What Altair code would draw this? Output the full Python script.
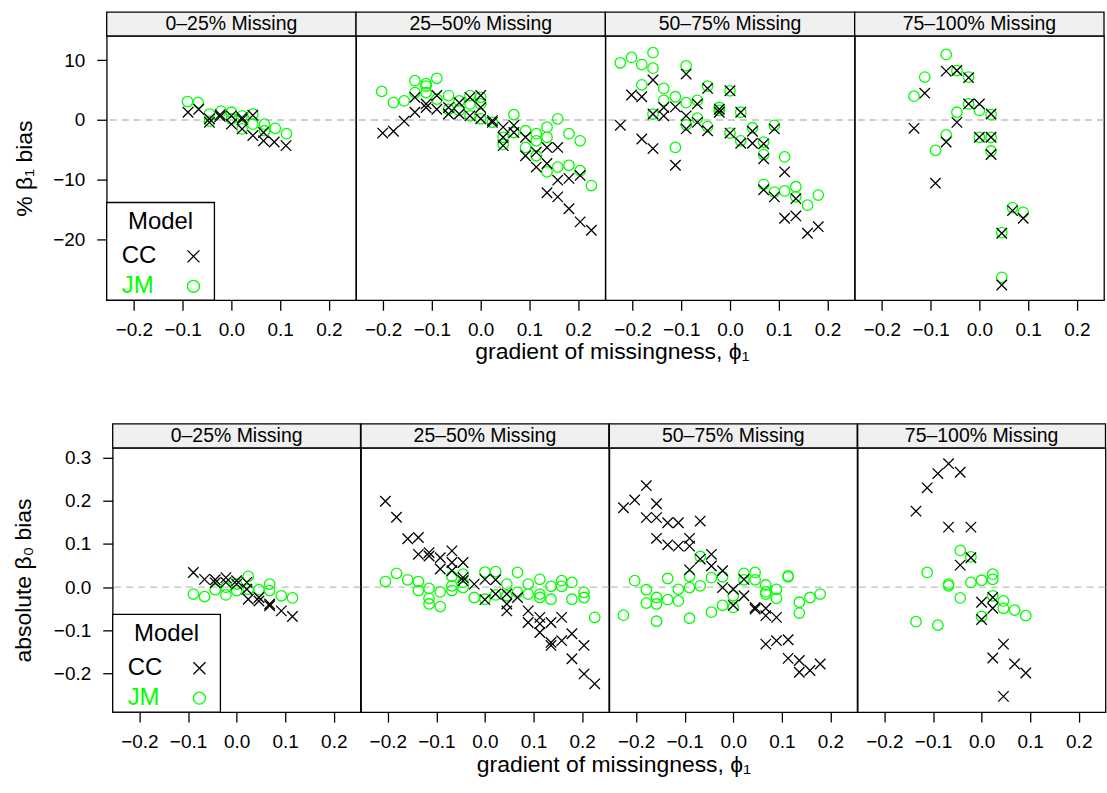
import altair as alt
import pandas as pd

FONT = "Liberation Sans"
GREEN = "#00FF00"
PANELS = ["0–25% Missing", "25–50% Missing", "50–75% Missing", "75–100% Missing"]
X_TICKS = [-0.2, -0.1, 0.0, 0.1, 0.2]
B1_TICKS = [-20, -10, 0, 10]
B0_TICKS = [-0.2, -0.1, 0.0, 0.1, 0.2, 0.3]
LEGEND_TITLE = ["Model"]
MODELS = ["CC", "JM"]
B1_TITLE = "% β₁ bias"
B0_TITLE = "absolute β₀ bias"
X_TITLE = "gradient of missingness, ϕ₁"

# ---- % beta1 bias (top row), (phi1, bias) pairs ----
B1_CC_1 = [(-0.089, 1.3), (-0.067, 1.8), (-0.045, -0.4), (-0.045, 0.2), (-0.023, 0.9), (-0.023, 0.6),
           (0.0, 0.7), (0.0, -0.7), (0.022, 0.1), (0.022, 0.4), (0.022, -1.5), (0.044, 0.8), (0.044, -2.6),
           (0.066, -2.1), (0.066, -3.5), (0.088, -3.7), (0.112, -4.3)]
B1_JM_1 = [(-0.09, 3.1), (-0.068, 2.9), (-0.045, 1.0), (-0.045, -0.2), (-0.021, 1.5), (0.0, 1.3), (0.0, 0.2),
           (0.022, 0.7), (0.022, -1.5), (0.044, 1.0), (0.044, -0.7), (0.068, -0.7), (0.068, -1.8),
           (0.09, -1.4), (0.113, -2.3)]
B1_CC_2 = [(-0.201, -2.2), (-0.179, -1.9), (-0.157, -0.2), (-0.135, 3.8), (-0.135, 1.3), (-0.112, 2.1),
           (-0.112, 2.7), (-0.090, 4.1), (-0.090, 1.8), (-0.066, 2.1), (-0.066, 1.0), (-0.044, 2.9),
           (-0.044, 1.0), (-0.022, 3.8), (-0.022, 0.7), (0.0, 4.1), (0.0, 2.1), (0.0, 0.2), (0.024, -0.1),
           (0.024, -0.4), (0.046, -1.2), (0.046, -2.9), (0.046, -4.3), (0.068, -0.9), (0.068, -2.1),
           (0.092, -2.9), (0.092, -6.0), (0.114, -5.4), (0.114, -7.9), (0.136, -4.6), (0.136, -7.3),
           (0.136, -12.2), (0.158, -4.6), (0.158, -10.1), (0.158, -12.9), (0.181, -9.8), (0.181, -14.9),
           (0.204, -9.3), (0.204, -17.1), (0.227, -18.5)]
B1_JM_2 = [(-0.203, 4.8), (-0.179, 2.9), (-0.157, 3.2), (-0.135, 6.6), (-0.135, 4.6), (-0.112, 6.1),
           (-0.112, 5.7), (-0.112, 4.6), (-0.090, 7.0), (-0.090, 3.5), (-0.066, 4.1), (-0.066, 1.8),
           (-0.044, 3.2), (-0.044, 1.6), (-0.022, 4.1), (-0.022, 2.7), (-0.022, 0.7), (0.0, 3.8), (0.0, 2.7),
           (0.0, 0.2), (0.024, -0.4), (0.046, -2.9), (0.046, -4.1), (0.068, 0.9), (0.068, -2.1),
           (0.092, -1.8), (0.092, -4.6), (0.114, -2.3), (0.114, -3.5), (0.114, -6.0), (0.136, -1.2),
           (0.136, -2.9), (0.136, -8.7), (0.158, 0.2), (0.158, -7.9), (0.181, -2.3), (0.181, -7.6),
           (0.204, -3.5), (0.204, -8.5), (0.227, -11.0)]
B1_CC_3 = [(-0.225, -0.9), (-0.202, 4.2), (-0.181, 3.9), (-0.181, -3.2), (-0.158, 6.7), (-0.158, -4.8),
           (-0.158, 1.0), (-0.136, 2.1), (-0.136, 0.7), (-0.112, 2.2), (-0.112, -7.6), (-0.090, 7.7),
           (-0.090, 0.7), (-0.090, -1.5), (-0.067, 2.7), (-0.067, -0.4), (-0.046, 5.3), (-0.046, -1.8),
           (-0.022, 1.8), (-0.022, 1.3), (0.0, 4.9), (0.0, -2.2), (0.022, 1.3), (0.022, -3.9), (0.046, -1.9),
           (0.046, -3.9), (0.069, -4.0), (0.069, -6.5), (0.069, -11.7), (0.091, -1.5), (0.091, -12.9),
           (0.112, -8.7), (0.112, -16.5), (0.135, -13.2), (0.135, -16.1), (0.159, -19.0), (0.181, -17.9)]
B1_JM_3 = [(-0.225, 9.6), (-0.202, 10.5), (-0.181, 9.3), (-0.158, 11.3), (-0.158, 8.7), (-0.181, 5.9),
           (-0.136, 5.3), (-0.158, 1.0), (-0.136, 3.3), (-0.112, 3.9), (-0.112, -4.6), (-0.090, 9.1),
           (-0.090, 2.9), (-0.090, -0.8), (-0.067, 3.3), (-0.067, 0.3), (-0.046, 5.7), (-0.046, -1.1),
           (-0.022, 2.1), (-0.022, 1.6), (0.0, 4.9), (0.0, -2.2), (0.022, 1.3), (0.022, -3.5), (0.046, -1.3),
           (0.069, -3.7), (0.069, -5.8), (0.069, -10.8), (0.091, -0.9), (0.091, -12.1), (0.112, -6.2),
           (0.112, -11.9), (0.135, -11.2), (0.135, -12.9), (0.159, -14.3), (0.181, -12.6)]
B1_CC_4 = [(-0.134, -1.4), (-0.112, 4.5), (-0.090, -10.6), (-0.068, 8.2), (-0.068, -3.7), (-0.046, 8.3),
           (-0.046, -0.4), (-0.022, 7.1), (-0.022, 2.7), (0.0, 2.7), (0.0, -2.9), (0.024, 1.0), (0.024, -2.9),
           (0.024, -5.8), (0.046, -19.0), (0.046, -27.7), (0.068, -15.2), (0.090, -16.5)]
B1_JM_4 = [(-0.134, 4.0), (-0.112, 7.2), (-0.090, -5.1), (-0.068, 11.0), (-0.068, -2.5), (-0.046, 8.3),
           (-0.046, 1.3), (-0.022, 7.2), (-0.022, 2.7), (0.0, 1.6), (0.0, -2.9), (0.024, 0.9), (0.024, -2.9),
           (0.024, -5.2), (0.046, -18.9), (0.046, -26.4), (0.068, -14.7), (0.090, -15.5)]

# ---- absolute beta0 bias (bottom row) ----
B0_CC_1 = [(-0.089, 0.034), (-0.066, 0.018), (-0.044, 0.017), (-0.044, 0.010), (-0.022, 0.022),
           (-0.022, 0.011), (0.0, 0.015), (0.0, 0.007), (0.021, 0.011), (0.021, -0.005), (0.024, -0.028),
           (0.046, -0.024), (0.046, -0.032), (0.068, -0.039), (0.068, -0.043), (0.092, -0.055), (0.115, -0.068)]
B0_JM_1 = [(-0.089, -0.016), (-0.066, -0.022), (-0.044, -0.006), (-0.022, -0.018), (-0.022, 0.0),
           (0.0, -0.008), (0.0, 0.007), (0.024, 0.025), (0.024, -0.005), (0.046, -0.006), (0.068, 0.007),
           (0.068, -0.008), (0.092, -0.020), (0.115, -0.025)]
B0_CC_2 = [(-0.205, 0.199), (-0.182, 0.162), (-0.159, 0.112), (-0.137, 0.115), (-0.137, 0.076),
           (-0.115, 0.080), (-0.115, 0.072), (-0.092, 0.068), (-0.092, 0.042), (-0.068, 0.084),
           (-0.068, 0.057), (-0.068, 0.038), (-0.045, 0.057), (-0.045, 0.022), (-0.045, 0.015),
           (-0.022, 0.007), (0.0, 0.018), (0.0, -0.029), (0.022, 0.017), (0.022, -0.016), (0.045, -0.016),
           (0.045, -0.039), (0.045, -0.055), (0.067, -0.024), (0.089, -0.055), (0.089, -0.082),
           (0.113, -0.070), (0.113, -0.085), (0.113, -0.105), (0.136, -0.082), (0.136, -0.128),
           (0.136, -0.135), (0.158, -0.070), (0.158, -0.124), (0.179, -0.108), (0.179, -0.166),
           (0.204, -0.135), (0.204, -0.201), (0.226, -0.224)]
B0_JM_2 = [(-0.205, 0.013), (-0.182, 0.032), (-0.159, 0.017), (-0.137, 0.013), (-0.137, -0.008),
           (-0.115, -0.003), (-0.115, -0.026), (-0.115, -0.039), (-0.092, -0.011), (-0.092, -0.045),
           (-0.068, 0.025), (-0.068, 0.003), (-0.068, -0.008), (-0.045, 0.030), (-0.045, 0.011),
           (-0.045, -0.001), (-0.022, -0.024), (0.0, 0.035), (0.0, -0.028), (0.022, 0.036), (0.022, -0.018),
           (0.045, 0.007), (0.045, -0.020), (0.067, 0.034), (0.067, -0.012), (0.089, 0.007), (0.089, -0.016),
           (0.113, 0.018), (0.113, -0.016), (0.113, -0.024), (0.136, 0.002), (0.136, -0.028), (0.158, 0.015),
           (0.158, 0.002), (0.179, 0.011), (0.179, -0.028), (0.204, -0.012), (0.204, -0.024), (0.226, -0.070)]
B0_CC_3 = [(-0.226, 0.184), (-0.203, 0.202), (-0.179, 0.235), (-0.158, 0.193), (-0.179, 0.161),
           (-0.158, 0.161), (-0.135, 0.149), (-0.113, 0.149), (-0.068, 0.153), (-0.158, 0.113),
           (-0.135, 0.098), (-0.113, 0.095), (-0.090, 0.113), (-0.090, 0.095), (-0.090, 0.040),
           (-0.068, 0.065), (-0.045, 0.076), (-0.045, 0.049), (-0.022, 0.038), (-0.022, -0.001),
           (0.0, -0.005), (0.0, -0.042), (0.022, 0.018), (0.022, -0.020), (0.045, -0.047), (0.045, -0.051),
           (0.067, -0.049), (0.067, -0.066), (0.067, -0.132), (0.089, -0.070), (0.089, -0.124),
           (0.113, -0.122), (0.113, -0.165), (0.136, -0.170), (0.136, -0.197), (0.158, -0.193), (0.179, -0.178)]
B0_JM_3 = [(-0.226, -0.065), (-0.203, 0.015), (-0.179, -0.006), (-0.179, -0.037), (-0.158, -0.024),
           (-0.158, -0.039), (-0.158, -0.079), (-0.135, 0.020), (-0.135, -0.029), (-0.113, -0.005),
           (-0.113, -0.032), (-0.090, 0.025), (-0.090, -0.001), (-0.090, -0.072), (-0.068, 0.071),
           (-0.068, 0.003), (-0.045, 0.022), (-0.045, -0.058), (-0.022, 0.024), (-0.022, -0.042),
           (0.0, -0.020), (0.0, -0.047), (0.022, 0.032), (0.022, 0.017), (0.045, 0.034), (0.045, 0.017),
           (0.067, 0.005), (0.067, -0.011), (0.067, -0.016), (0.089, -0.005), (0.089, -0.026), (0.113, 0.026),
           (0.113, 0.024), (0.136, -0.035), (0.136, -0.060), (0.158, -0.024), (0.179, -0.016)]
B0_CC_4 = [(-0.135, 0.176), (-0.112, 0.230), (-0.090, 0.263), (-0.068, 0.286), (-0.044, 0.266),
           (-0.068, 0.139), (-0.022, 0.139), (-0.044, 0.051), (-0.022, 0.068), (0.0, -0.035), (0.0, -0.075),
           (0.023, -0.024), (0.023, -0.049), (0.045, -0.132), (0.023, -0.164), (0.045, -0.253),
           (0.068, -0.178), (0.091, -0.199)]
B0_JM_4 = [(-0.135, -0.080), (-0.112, 0.034), (-0.090, -0.088), (-0.068, 0.007), (-0.068, 0.003),
           (-0.044, 0.085), (-0.044, -0.025), (-0.022, 0.070), (-0.022, 0.011), (0.0, 0.016), (0.0, -0.068),
           (0.023, 0.030), (0.023, 0.018), (0.023, -0.020), (0.045, -0.032), (0.045, -0.049),
           (0.068, -0.053), (0.091, -0.066)]

CROSS = "M-1,-1L1,1M-1,1L1,-1"
LW = 1.3


def pts(pairs):
    return pd.DataFrame(pairs, columns=["phi", "bias"])


def panel(i, cc, jm, W, H, xdom, ydom, yticks, yfmt, ytitle, title_x, xtitle_dx, xtitle_dy):
    xs = alt.Scale(domain=xdom, nice=False, zero=False)
    ys = alt.Scale(domain=ydom, nice=False, zero=False)
    xaxis = alt.Axis(values=X_TICKS, format=".1f", title=None, grid=False, domain=False,
                     tickSize=10, tickWidth=LW, tickColor="black", labelColor="black",
                     labelFontSize=19, labelFont=FONT, labelPadding=10, labelFlush=False)
    if i == 0:
        yaxis = alt.Axis(values=yticks, format=yfmt, title=ytitle, grid=False, domain=False,
                         tickSize=10, tickWidth=LW, tickColor="black", labelColor="black",
                         labelFontSize=19, labelFont=FONT, labelPadding=12,
                         titleFontSize=23, titleFont=FONT, titleFontWeight="normal", titleColor="black",
                         titleX=title_x, titleY=H / 2, titleAngle=270, titleBaseline="middle",
                         titleAlign="center")
    else:
        yaxis = None
    ex = alt.X("phi:Q", scale=xs, axis=xaxis)
    ey = alt.Y("bias:Q", scale=ys, axis=yaxis)
    strip = alt.Chart(pd.DataFrame({"label": [PANELS[i]]}))
    layers = [
        strip.mark_rect(fill="#F0F0F0", stroke="black", strokeWidth=LW).encode(
            x=alt.value(0), x2=alt.value(W), y=alt.value(-24), y2=alt.value(0)),
        strip.mark_text(fontSize=19.5, font=FONT, color="black", baseline="middle", align="center").encode(
            text="label:N", x=alt.value(W / 2), y=alt.value(-12)),
        alt.Chart(pd.DataFrame({"bias": [0.0]})).mark_rule(
            color="#BEBEBE", strokeDash=[7, 5], strokeWidth=LW).encode(y=ey),
        alt.Chart(pts(jm)).mark_point(shape="circle", filled=False, color=GREEN, size=110,
                                      strokeWidth=LW, opacity=1).encode(x=ex, y=ey),
        alt.Chart(pts(cc)).mark_point(shape=CROSS, filled=False, color="black", size=110,
                                      strokeWidth=LW, opacity=1).encode(x=ex, y=ey),
    ]
    if i == 1:
        layers.append(
            alt.Chart(pd.DataFrame({"t": [X_TITLE]})).mark_text(
                fontSize=23, font=FONT, color="black", baseline="middle", align="center").encode(
                text="t:N", x=alt.value(W + xtitle_dx), y=alt.value(H + xtitle_dy)))
    if i == 0:
        leg_t = alt.Chart(pd.DataFrame({"t": LEGEND_TITLE}))
        cc_t = alt.Chart(pd.DataFrame({"t": [MODELS[0]]}))
        jm_t = alt.Chart(pd.DataFrame({"t": [MODELS[1]]}))
        layers += [
            leg_t.mark_rect(fill="white", stroke="black", strokeWidth=LW).encode(
                x=alt.value(0), x2=alt.value(108), y=alt.value(H - 98), y2=alt.value(H)),
            leg_t.mark_text(fontSize=24, font=FONT, color="black", baseline="middle", align="center").encode(
                text="t:N", x=alt.value(54), y=alt.value(H - 78)),
            cc_t.mark_text(fontSize=24, font=FONT, color="black", baseline="middle", align="left").encode(
                text="t:N", x=alt.value(15), y=alt.value(H - 44)),
            jm_t.mark_text(fontSize=24, font=FONT, color=GREEN, baseline="middle", align="left").encode(
                text="t:N", x=alt.value(15), y=alt.value(H - 14)),
            cc_t.mark_point(shape=CROSS, filled=False, color="black", size=144, strokeWidth=LW,
                            opacity=1).encode(x=alt.value(87), y=alt.value(H - 44)),
            jm_t.mark_point(shape="circle", filled=False, color=GREEN, size=144, strokeWidth=LW,
                            opacity=1).encode(x=alt.value(87), y=alt.value(H - 14)),
        ]
    return alt.layer(*layers).properties(width=W, height=H)


W1, H1 = 250, 265
W2, H2 = 248.5, 265
XDOM1 = [-0.2557, 0.2557]
XDOM2 = [-0.2551, 0.2551]
YDOM1 = [-30.25, 14.1]
YDOM2 = [-0.2895, 0.3226]

B1_CC = [B1_CC_1, B1_CC_2, B1_CC_3, B1_CC_4]
B1_JM = [B1_JM_1, B1_JM_2, B1_JM_3, B1_JM_4]
B0_CC = [B0_CC_1, B0_CC_2, B0_CC_3, B0_CC_4]
B0_JM = [B0_JM_1, B0_JM_2, B0_JM_3, B0_JM_4]

row1 = alt.hconcat(*[panel(i, B1_CC[i], B1_JM[i], W1, H1, XDOM1, YDOM1, B1_TICKS, "d", B1_TITLE,
                           -82, 7, 52) for i in range(4)], spacing=0, bounds="flush")

spacer = alt.Chart(pd.DataFrame({"a": [0]})).mark_point(opacity=0).encode(
    x=alt.value(0), y=alt.value(0)).properties(width=5.5, height=H2, view=alt.ViewBackground(strokeOpacity=0))

row2 = alt.hconcat(spacer, *[panel(i, B0_CC[i], B0_JM[i], W2, H2, XDOM2, YDOM2, B0_TICKS, ".1f", B0_TITLE,
                                   -89, 5, 53) for i in range(4)], spacing=0, bounds="flush")

chart = alt.vconcat(row1, row2, spacing=57).properties(
    padding={"left": 12, "top": 9, "right": 0, "bottom": 5}
).configure(font=FONT).configure_view(stroke="black", strokeWidth=LW)

chart.save("out.html", embed_options={"renderer": "svg", "actions": False})
